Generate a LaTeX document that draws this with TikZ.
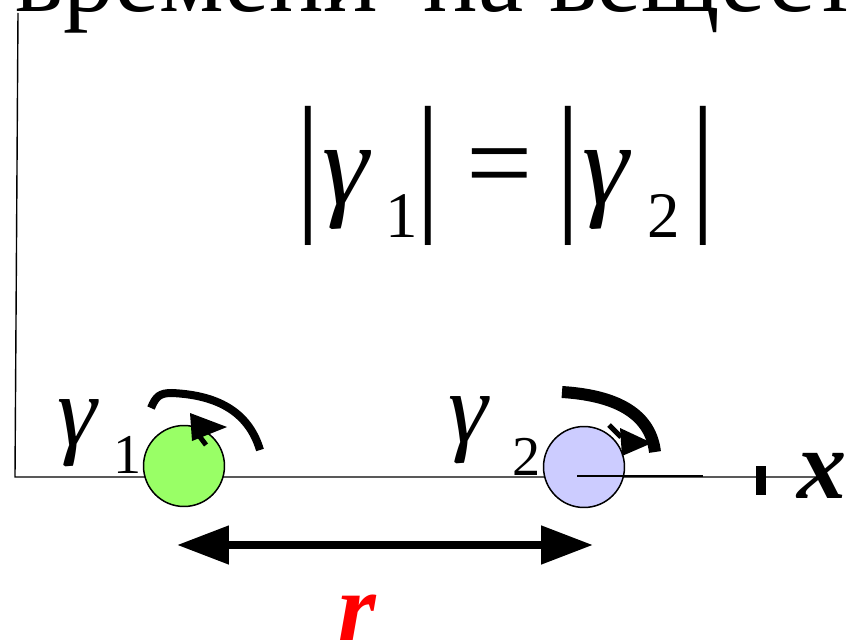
\documentclass[tikz,border=0pt]{standalone}
\usepackage{fontspec}
\setmainfont{Liberation Serif}
\usepackage{graphicx}
\usepackage{tikz}
\usetikzlibrary{arrows.meta,positioning}
\definecolor{BallGreen}{HTML}{99FF66}
\definecolor{BallBlue}{HTML}{CCCCFF}
\definecolor{LabelRed}{HTML}{FF0000}
\newcommand{\fsz}[1]{\fontsize{#1}{#1}\selectfont}

\begin{document}
\begin{tikzpicture}[x=0.02cm, y=-0.02cm,
  txt/.style={inner sep=0pt, anchor=base west},
  ball/.style={circle, draw=black, line width=0.03cm, inner sep=0pt, minimum size=1.62cm},
  bar/.style={inner sep=0pt, font=\fsz{67}}]
\useasboundingbox (0,0) rectangle (853,642);

% Heading (cut off at the top)
\node[txt, font=\fsz{58}] (head) at (15,12) {времени \hspace{0.4cm}на веществе};

% Axes
\coordinate (Top) at (18,13);
\coordinate (O) at (15,477);
\coordinate (End) at (815,477);
\draw[line width=0.028cm] (Top) -- (O) -- (End);
\fill (756,466) rectangle (766,495);
\node[txt, font=\fsz{56}\bfseries\itshape] (xlab) at (797,498) {x};

% |g1| = |g2|
\node[bar] (b1) at (308,176) {\scalebox{1}[1.3]{|}};
\node[txt, font=\fsz{67}\itshape] (eg1) at (322,205) {γ};
\node[txt, font=\fsz{37}] (es1) at (385,237) {1};
\node[bar] (b2) at (428,176) {\scalebox{1}[1.3]{|}};
\node[bar] (eq) at (500,176) {=};
\node[bar] (b3) at (568,176) {\scalebox{1}[1.3]{|}};
\node[txt, font=\fsz{67}\itshape] (eg2) at (582,205) {γ};
\node[txt, font=\fsz{37}] (es2) at (647,237) {2};
\node[bar] (b4) at (703,176) {\scalebox{1}[1.3]{|}};

% Balls
\node[ball, fill=BallGreen] (ball1) at (184,466) {};
\node[ball, fill=BallBlue] (ball2) at (584,467) {};
\draw[line width=0.05cm] (577,476) -- (703,476);

% Ball labels
\node[txt, font=\fsz{57}\itshape] (g1) at (57,445) {γ};
\node[txt, font=\fsz{32}] (s1) at (113,473) {1};
\node[txt, font=\fsz{57}\itshape] (g2) at (448,442) {γ};
\node[txt, font=\fsz{32}] (s2) at (512,475) {2};

% Spin arrows
\draw[line width=0.16cm] (151,408) .. controls (156,396) and (160,393) .. (172,393)
  .. controls (215,395) and (248,410) .. (260,450);
\fill (190,413) -- (227,427) -- (192,441) -- cycle;
\draw[line width=0.1cm] (197,433) -- (206,445);
\draw[line width=0.24cm] (562,392) .. controls (610,395) and (650,410) .. (655,452);
\fill (620,428) -- (652,443) -- (622,456) -- cycle;
\draw[line width=0.1cm] (609,425) -- (621,437);

% Distance r
\coordinate (rL) at (177,545);
\coordinate (rR) at (593,545);
\draw[line width=0.16cm, {Triangle[length=1.04cm,width=0.74cm]}-{Triangle[length=1.04cm,width=0.74cm]}] (rL) -- (rR);
\node[txt, font=\fsz{55}\bfseries\itshape, text=LabelRed] (rlab) at (338,640) {r};
\end{tikzpicture}
\end{document}
